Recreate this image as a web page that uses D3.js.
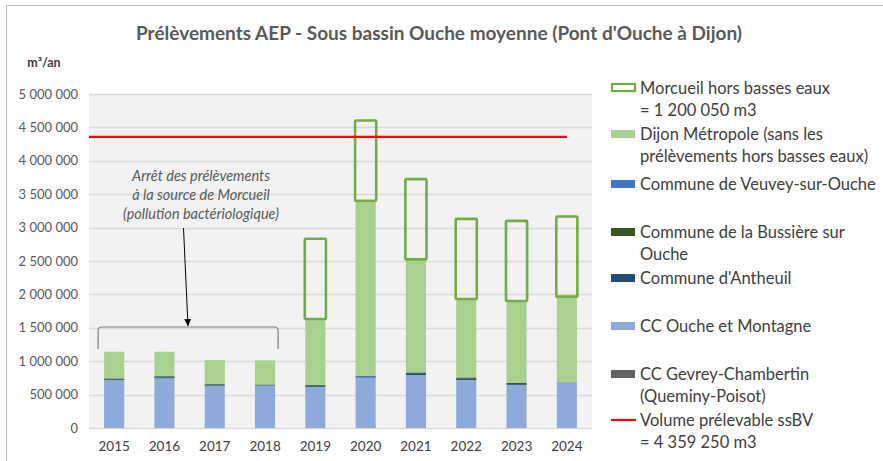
<!DOCTYPE html>
<html>
<head>
<meta charset="utf-8">
<script src="https://cdn.jsdelivr.net/npm/d3@7"></script>
<style>
  body { margin: 0; background: #fff; }
  svg { font-family: Lato, "Open Sans", sans-serif; }
</style>
</head>
<body>
<script>
//data (m3 per year)
var years = ["2015", "2016", "2017", "2018", "2019", "2020", "2021", "2022", "2023", "2024"];
var gevrey   = [0, 0, 0, 0, 0, 0, 0, 0, 0, 0];
var ccOuche  = [719000, 744000, 633000, 633000, 614000, 753000, 793000, 719000, 644000, 674000];
var antheuil = [12000, 15000, 10000, 5000, 12000, 5000, 18000, 18000, 12000, 3000];
var bussiere = [10000, 15000, 12000, 12000, 15000, 5000, 18000, 18000, 20000, 3000];
var veuvey   = [3000, 5000, 3000, 3000, 3000, 20000, 4000, 4000, 3000, 3000];
var dijon    = [398000, 363000, 360000, 360000, 988000, 2620000, 1692000, 1172000, 1222000, 1283000];
var morcueil = [0, 0, 0, 0, 1200050, 1200050, 1200050, 1200050, 1200050, 1200050];
var volumePrelevable = 4359250;
var yTicks = [0, 500000, 1000000, 1500000, 2000000, 2500000, 3000000, 3500000, 4000000, 4500000, 5000000];

//stack order, bottom to top
var keys = ["gevrey", "ccOuche", "antheuil", "bussiere", "veuvey", "dijon", "morcueil"];
var colors = {
    gevrey: "#636363",
    ccOuche: "#8eaadb",
    antheuil: "#1f4e79",
    bussiere: "#375623",
    veuvey: "#4472c4",
    dijon: "#a9d18e",
    morcueil: "#70ad47"
};

var rows = years.map(function(y, i){
    return {year: y, gevrey: gevrey[i], ccOuche: ccOuche[i], antheuil: antheuil[i],
        bussiere: bussiere[i], veuvey: veuvey[i], dijon: dijon[i], morcueil: morcueil[i]};
});

var width = 883, height = 461;
var plotLeft = 89, plotRight = 592, plotTop = 94, plotBottom = 428;

var svg = d3.select("body").append("svg")
    .attr("width", width)
    .attr("height", height);

//chart border
svg.append("rect")
    .attr("x", 6.5).attr("y", 5.5)
    .attr("width", 890).attr("height", 470)
    .attr("fill", "#fff")
    .attr("stroke", "#bfbfbf");

//title
svg.append("text")
    .attr("x", 439).attr("y", 40)
    .attr("text-anchor", "middle")
    .attr("font-size", 19)
    .attr("font-weight", "bold")
    .attr("fill", "#595959")
    .text("Prélèvements AEP - Sous bassin Ouche moyenne (Pont d'Ouche à Dijon)");

svg.append("text")
    .attr("x", 44).attr("y", 67)
    .attr("text-anchor", "middle")
    .attr("font-size", 12.5)
    .attr("font-weight", "bold")
    .attr("fill", "#404040")
    .text("m³/an");

var x = d3.scaleBand()
    .domain(years)
    .range([plotLeft, plotRight])
    .paddingInner(0.6)
    .paddingOuter(0.3);

var y = d3.scaleLinear()
    .domain([0, 5000000])
    .range([plotBottom, plotTop]);

//plot background
svg.append("rect")
    .attr("x", plotLeft).attr("y", plotTop)
    .attr("width", plotRight - plotLeft)
    .attr("height", plotBottom - plotTop)
    .attr("fill", "#f2f2f2");

//gridlines
svg.append("g")
    .selectAll("line")
    .data(yTicks)
    .enter()
    .append("line")
    .attr("x1", plotLeft).attr("x2", plotRight)
    .attr("y1", function(d){ return Math.round(y(d)) + 0.5; })
    .attr("y2", function(d){ return Math.round(y(d)) + 0.5; })
    .attr("stroke", "#d9d9d9")
    .attr("stroke-width", 1.3);

//y axis labels
var fmt = function(d){ return d3.format(",")(d).replace(/,/g, " "); };
var yAxis = svg.append("g")
    .attr("transform", "translate(" + (plotLeft - 11) + ",0)")
    .call(d3.axisLeft(y).tickValues(yTicks).tickFormat(fmt).tickSize(0).tickPadding(0));
yAxis.select(".domain").remove();
yAxis.selectAll("text")
    .attr("font-family", "Lato, sans-serif")
    .attr("font-size", 13)
    .attr("fill", "#595959");

//x axis labels
var xAxis = svg.append("g")
    .attr("transform", "translate(0," + (plotBottom + 11) + ")")
    .call(d3.axisBottom(x).tickSize(0).tickPadding(0));
xAxis.select(".domain").remove();
xAxis.selectAll("text")
    .attr("font-family", "Lato, sans-serif")
    .attr("font-size", 13.5)
    .attr("dy", "0.9em")
    .attr("fill", "#404040");

//stacked bars
var series = d3.stack().keys(keys)(rows);

svg.append("g")
    .selectAll("g")
    .data(series.filter(function(s){ return s.key != "morcueil"; }))
    .enter()
    .append("g")
    .attr("fill", function(s){ return colors[s.key]; })
    .selectAll("rect")
    .data(function(s){ return s; })
    .enter()
    .append("rect")
    .attr("x", function(d){ return x(d.data.year); })
    .attr("width", x.bandwidth())
    .attr("y", function(d){ return y(d[1]); })
    .attr("height", function(d){ return y(d[0]) - y(d[1]); });

//Morcueil outline boxes
var morcueilSeries = series.filter(function(s){ return s.key == "morcueil"; })[0];
svg.append("g")
    .selectAll("rect")
    .data(morcueilSeries.filter(function(d){ return d[1] > d[0]; }))
    .enter()
    .append("rect")
    .attr("x", function(d){ return x(d.data.year) - 0.5; })
    .attr("width", x.bandwidth() + 1)
    .attr("y", function(d){ return y(d[1]); })
    .attr("height", function(d){ return y(d[0]) - y(d[1]); })
    .attr("fill", "none")
    .attr("stroke", colors.morcueil)
    .attr("stroke-width", 2.6)
    .attr("rx", 1);

//volume prelevable line
svg.append("line")
    .attr("x1", plotLeft)
    .attr("x2", x(years[years.length - 1]) + x.bandwidth() / 2)
    .attr("y1", y(volumePrelevable))
    .attr("y2", y(volumePrelevable))
    .attr("stroke", "#ff0000")
    .attr("stroke-width", 2.2);

//annotation
var noteLines = ["Arrêt des prélèvements", "à la source de Morcueil", "(pollution bactériologique)"];
svg.append("g")
    .selectAll("text")
    .data(noteLines)
    .enter()
    .append("text")
    .attr("x", 201)
    .attr("y", function(d, i){ return 181 + i * 19; })
    .attr("text-anchor", "middle")
    .attr("font-size", 14.5)
    .attr("font-style", "italic")
    .attr("fill", "#595959")
    .text(function(d){ return d; });

//bracket over 2015-2018
var bx1 = x("2015") - 6, bx2 = x("2018") + x.bandwidth() + 3;
svg.append("path")
    .attr("d", "M" + bx1 + ",349 L" + bx1 + ",331 Q" + bx1 + ",327 " + (bx1 + 4) + ",327 L" + (bx2 - 4) + ",327 Q" + bx2 + ",327 " + bx2 + ",331 L" + bx2 + ",349")
    .attr("fill", "none")
    .attr("stroke", "#808080")
    .attr("stroke-width", 1.2);

svg.append("defs").append("marker")
    .attr("id", "arrow")
    .attr("viewBox", "0 0 10 10")
    .attr("refX", 10).attr("refY", 5)
    .attr("markerWidth", 7).attr("markerHeight", 7)
    .attr("orient", "auto")
    .append("path")
    .attr("d", "M0,0 L10,5 L0,10 Z")
    .attr("fill", "#000");

svg.append("line")
    .attr("x1", 183.5).attr("y1", 228)
    .attr("x2", 188).attr("y2", 326)
    .attr("stroke", "#000")
    .attr("stroke-width", 1)
    .attr("marker-end", "url(#arrow)");

//legend
var legendItems = [
    {key: "morcueil", type: "box", lines: ["Morcueil hors basses eaux", "= 1 200 050 m3"], y: 88},
    {key: "dijon", type: "fill", lines: ["Dijon Métropole (sans les", "prélèvements hors basses eaux)"], y: 134},
    {key: "veuvey", type: "fill", lines: ["Commune de Veuvey-sur-Ouche"], y: 184},
    {key: "bussiere", type: "fill", lines: ["Commune de la Bussière sur", "Ouche"], y: 232},
    {key: "antheuil", type: "fill", lines: ["Commune d'Antheuil"], y: 278},
    {key: "ccOuche", type: "fill", lines: ["CC Ouche et Montagne"], y: 326},
    {key: "gevrey", type: "fill", lines: ["CC Gevrey-Chambertin", "(Queminy-Poisot)"], y: 374},
    {key: "volume", type: "line", lines: ["Volume prélevable ssBV", "= 4 359 250 m3"], y: 420}
];

var legend = svg.append("g");
var item = legend.selectAll("g")
    .data(legendItems)
    .enter()
    .append("g")
    .attr("transform", function(d){ return "translate(611," + d.y + ")"; });

item.each(function(d){
    var g = d3.select(this);
    if (d.type == "fill"){
        g.append("rect")
            .attr("x", 0).attr("y", -4)
            .attr("width", 24).attr("height", 8)
            .attr("fill", colors[d.key]);
    } else if (d.type == "box"){
        g.append("rect")
            .attr("x", 1).attr("y", -4)
            .attr("width", 23).attr("height", 7)
            .attr("fill", "#fff")
            .attr("stroke", colors.morcueil)
            .attr("stroke-width", 2.2);
    } else {
        g.append("line")
            .attr("x1", 0).attr("x2", 25)
            .attr("y1", 0).attr("y2", 0)
            .attr("stroke", "#ff0000")
            .attr("stroke-width", 2.2);
    }
    g.selectAll("text")
        .data(d.lines)
        .enter()
        .append("text")
        .attr("x", 29)
        .attr("y", function(t, i){ return i * 22.5; })
        .attr("dy", "0.36em")
        .attr("font-size", 16.5)
        .attr("fill", "#404040")
        .text(function(t){ return t; });
});
</script>
</body>
</html>
